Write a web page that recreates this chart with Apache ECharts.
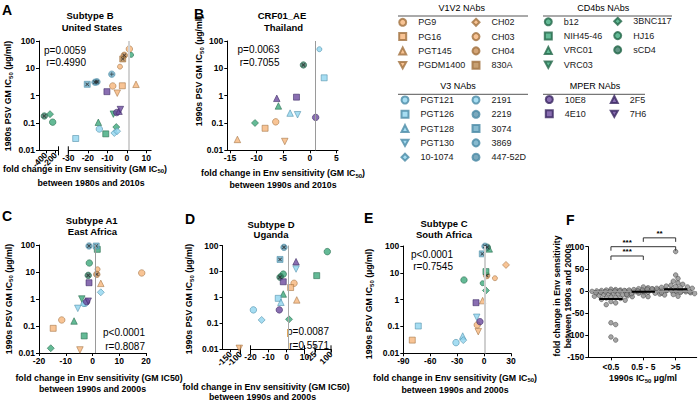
<!DOCTYPE html>
<html><head><meta charset="utf-8">
<script src="https://cdn.jsdelivr.net/npm/echarts@6/dist/echarts.min.js"></script>
<style>html,body{margin:0;padding:0;background:#fff}#c{width:700px;height:401px}</style>
</head><body><div id="c"></div>
<script>
// ---------------- DATA ----------------
const v1v2 = ["PG9","PG16","PGT145","PGDM1400","CH02","CH03","CH04","830A"];
const cd4bs = ["b12","NIH45-46","VRC01","VRC03","3BNC117","HJ16","sCD4"];
const v3 = ["PGT121","PGT126","PGT128","PGT130","10-1074","2191","2219","3074","3869","447-52D"];
const mper = ["10E8","4E10","2F5","7H6"];

// [antibody, fold change, GM IC50]
const panelA = [
 ["PG9",1.3,51],["HJ16",2.2,31],["CH04",-1.3,30],["830A",-2.1,22],["CH03",-3.5,11.5],
 ["3869",-7.7,6.1],["3074",-20.3,2.6],["2219",-16.3,3.1],["447-52D",-15.3,3.2],
 ["PG9",-7.2,2.26],["PG16",-2.3,2.3],["PGT145",4.7,2.6],["4E10",-10.2,1.4],["PGDM1400",-4.9,1.23],
 ["10E8",-5.2,0.24],["2F5",-4.0,0.27],["7H6",-3.3,0.31],["VRC03",-6.9,0.21],["VRC01",-14.6,0.106],
 ["PGT121",-14.1,0.06],["NIH45-46",-10.8,0.04],["3BNC117",-5.4,0.071],["10-1074",-6.4,0.043],
 ["10-1074",-5.0,0.05],["PGT126",-26.2,0.027],
 ["sCD4",-431,0.18],["3BNC117",-314,0.21],["b12",-259,0.107]
];
const panelB = [
 ["2191",1.8,50],["sCD4",-1.2,13.3],["PGT126",2.7,4.5],["2F5",-6.2,0.8],["4E10",-2.5,0.88],
 ["VRC01",-5.9,0.42],["PGT128",-3.7,0.23],["PGT130",-2.3,0.2],["10E8",1.1,0.16],["PG9",-6.4,0.11],
 ["PG16",-8.4,0.064],["3BNC117",-10.3,0.1],["PGT145",-13.6,0.025],["PGDM1400",-4.7,0.021]
];
const panelC = [
 ["2219",-1.3,92],["3074",1.4,92],["NIH45-46",1.8,69],["b12",-1.2,21.5],["CH03",1.9,12.6],
 ["PG9",18.4,9.2],["sCD4",-1.6,7.5],["CH04",1.6,8.2],["4E10",-1.3,4],["PGT145",3.1,3.8],
 ["10-1074",3.1,1.77],["VRC03",-4,1.0],["10E8",-2.2,0.79],["7H6",-1.6,0.83],["PGT121",-2.8,0.69],
 ["2191",-3.4,0.65],["PGT130",-5.5,0.45],["PG9",-11.5,0.167],["VRC01",-6.9,0.153],["PG16",-14.7,0.082],
 ["NIH45-46",-3.1,0.043],["3BNC117",-15.6,0.015],["PGDM1400",-4.7,0.013]
];
const panelD = [
 ["2219",-1.4,85],["3074",-3.6,29],["2F5",5.3,23.8],["PGT130",5.3,12.4],["b12",-1.8,7.9],
 ["HJ16",-3.1,6.7],["sCD4",-3.6,6.0],["4E10",-1.8,4.0],["PG9",4.2,3.5],["PG16",2.3,2.4],
 ["VRC01",-1.8,1.35],["PGT126",-4.6,0.92],["PGT145",5.7,0.8],["PGT128",-3.1,0.65],["PGT121",-18.4,0.33],
 ["10E8",-4,0.33],["10-1074",-13.8,0.135],["3BNC117",1.4,0.143],
 ["b12",82.7,58],["NIH45-46",33,6.9],["PGDM1400",-106,0.0109]
];
const panelE = [
 ["2219",1,98],["sCD4",3.6,90],["VRC01",5.8,78],["3074",-2,51],["CH02",24.4,19.7],["NIH45-46",2.1,11.1],
 ["CH04",2.9,7.9],["CH03",12.1,6.3],["b12",-22.4,5.4],["HJ16",-1.6,4.1],["3BNC117",2.1,2.2],
 ["PGT145",-1.6,0.92],["4E10",-9,0.77],["PGT130",-8.2,0.22],["10E8",-4.6,0.151],["PG9",-7.6,0.114],
 ["PGDM1400",-6.5,0.064],["PGT126",-73.3,0.104],["PG16",-80,0.031],["PGT128",-23.8,0.044],
 ["10-1074",-23.2,0.031],["PGT121",-31.3,0.025]
];
const fCats = ["<0.5","0.5 - 5",">5"];
const fLow = [4,3,2,2,1,0,0,-1,-1,-2,-2,-3,-3,-4,-5,-5,-6,-7,-8,-9,-10,-11,-12,-13,-14,-15,-16,-17,-19,-21,-24,-27,-31,-72,-76,-104,-111];
const fMid = [9,7,5,4,3,3,2,2,1,1,0,0,0,-1,-1,-1,-2,-2,-2,-3,-3,-4,-4,-5,-5,-6,-7,-8,-9,-11,-13];
const fHigh = [89,36,28,22,18,15,13,11,10,9,8,7,6,6,5,5,4,4,3,3,2,2,1,1,0,0,-1,-2,-3,-4,-6,-8,-12];
const fCenters = [-18,-2,4];
const fBrackets = [[0,2,100,"***"],[0,1,79,"***"],[1,2,120,"**"]];

const ticksA1=[-400,-200], ticksA2=[-30,-20,-10,0,10], ticksB=[-15,-10,-5,0,5], ticksC=[-20,-10,0,10,20];
const ticksD1=[-150,-100], ticksD2=[-20,-10,0,10], ticksD3=[25,100], ticksE=[-90,-60,-30,0,30];

// ---------------- STYLE ----------------
const FONT = '"Liberation Sans", Arial, sans-serif';
const GROUP_COLOR = {V1V2:'#F6B57A', V3:'#90D4EF', CD4bs:'#3DA97C', MPER:'#6B4A9E'};
const BORDER = {V1V2:'#A0703F', V3:'#4A8AA5', CD4bs:'#236648', MPER:'#382660'};
const DOWN = 'path://M0,0L10,0L5,9Z';
const XMARK = 'path://M1.5,0L5,3.5L8.5,0L10,1.5L6.5,5L10,8.5L8.5,10L5,6.5L1.5,10L0,8.5L3.5,5L0,1.5Z';
const PLUS = 'path://M4.2,0H5.8V4.2H10V5.8H5.8V10H4.2V5.8H0V4.2H4.2Z';
const STAR = 'path://M1.5,0L5,3.5L8.5,0L10,1.5L6.5,5L10,8.5L8.5,10L5,6.5L1.5,10L0,8.5L3.5,5L0,1.5Z M4.3,0H5.7V10H4.3Z M0,4.3H10V5.7H0Z';
const groupOf = {};
v1v2.forEach(n=>groupOf[n]='V1V2'); v3.forEach(n=>groupOf[n]='V3'); cd4bs.forEach(n=>groupOf[n]='CD4bs'); mper.forEach(n=>groupOf[n]='MPER');
const SYM = {
 PG9:{sym:'circle',size:6.5}, PG16:{sym:'rect',size:6}, PGT145:{sym:'triangle',size:6.5}, PGDM1400:{sym:DOWN,size:6.5},
 CH02:{sym:'diamond',size:7}, CH03:{sym:'circle',size:5}, CH04:{sym:'circle',size:6.5,fill:'#C98F55',mark:XMARK}, '830A':{sym:'rect',size:6,fill:'#B98850',mark:XMARK},
 PGT121:{sym:'circle',size:6.5}, PGT126:{sym:'rect',size:6}, PGT128:{sym:'triangle',size:6.5}, PGT130:{sym:DOWN,size:6.5},
 '10-1074':{sym:'diamond',size:7}, '2191':{sym:'circle',size:5}, '2219':{sym:'circle',size:6.5,fill:'#5A93AC',mark:XMARK},
 '3074':{sym:'rect',size:6,fill:'#6AAAC4',mark:XMARK}, '3869':{sym:'circle',size:6.5,fill:'#6AAAC4',mark:PLUS}, '447-52D':{sym:'circle',size:6.5,fill:'#5A93AC',mark:STAR},
 b12:{sym:'circle',size:6.5}, 'NIH45-46':{sym:'rect',size:6}, VRC01:{sym:'triangle',size:6.5}, VRC03:{sym:DOWN,size:6.5},
 '3BNC117':{sym:'diamond',size:7}, HJ16:{sym:'circle',size:5}, sCD4:{sym:'circle',size:6.5,fill:'#3B7A66',mark:XMARK},
 '10E8':{sym:'circle',size:6.5}, '4E10':{sym:'rect',size:6}, '2F5':{sym:'triangle',size:6.5}, '7H6':{sym:DOWN,size:6.5}
};

const GRIDS = [
 {left:39,   top:41,    width:19.5,  height:109.3, xmin:-540, xmax:-140, ticks:ticksA1, rot:45, showY:true},
 {left:68.3, top:41,    width:82.9,  height:109.3, xmin:-30,  xmax:12.5, ticks:ticksA2, showY:false, ref:['#d2d2d2',2]},
 {left:227.3,top:41,    width:110.7, height:109.3, xmin:-15.5,xmax:5.3,  ticks:ticksB,  showY:true, ref:['#9a9a9a',1]},
 {left:39,   top:245,   width:107,   height:108,   xmin:-20,  xmax:20,   ticks:ticksC,  showY:true, ref:['#9a9a9a',1]},
 {left:222.5,top:245.5, width:18,    height:103.8, xmin:-190, xmax:-100, ticks:ticksD1, rot:45, showY:true},
 {left:250.5,top:245.5, width:54,    height:103.8, xmin:-20,  xmax:10,   ticks:ticksD2, showY:false, ref:['#a8a8a8',1]},
 {left:315,  top:245.5, width:16,    height:103.8, xmin:25,   xmax:100,  ticks:ticksD3, rot:45, showY:false},
 {left:403.3,top:246,   width:107.7, height:107.3, xmin:-90,  xmax:30,   ticks:ticksE,  showY:true, ref:['#cfcfcf',2]},
];
const FG = {left:588.3, top:246.7, width:108.4, height:110.6, xmin:-0.7, xmax:2.65, ymin:-150, ymax:100};

const lab = {fontFamily:FONT, fontSize:8.5, fontWeight:'bold', color:'#000', hideOverlap:false};
const grid=[], xAxis=[], yAxis=[], series=[], extraX=[];
GRIDS.forEach((g,i)=>{
  grid.push({left:g.left, top:g.top, width:g.width, height:g.height, containLabel:false});
  // rotated labels of short broken-axis segments: one label per axis so none is dropped
  const mainLabels = g.rot ? [g.ticks[0]] : g.ticks;
  xAxis.push({type:'value', gridIndex:i, min:g.xmin, max:g.xmax, position:'bottom',
    axisLine:{show:true,onZero:false,lineStyle:{color:'#000',width:1}},
    axisTick:{show:true,length:3,customValues:g.ticks,lineStyle:{color:'#000'}},
    axisLabel:Object.assign({customValues:mainLabels, margin:3.5, rotate:g.rot||0}, lab),
    splitLine:{show:false}});
  if(g.rot) g.ticks.slice(1).forEach(v=>extraX.push({type:'value', gridIndex:i, min:g.xmin, max:g.xmax, position:'bottom', offset:0,
    axisLine:{show:false,onZero:false}, axisTick:{show:false},
    axisLabel:Object.assign({customValues:[v], margin:3.5, rotate:g.rot}, lab), splitLine:{show:false}}));
  yAxis.push({type:'log', logBase:10, gridIndex:i, min:0.01, max:100, show:g.showY,
    axisLine:{show:true,onZero:false,lineStyle:{color:'#000',width:1}},
    axisTick:{show:true,length:3,lineStyle:{color:'#000'}},
    axisLabel:Object.assign({margin:4, formatter:v=>String(+(+v).toPrecision(3))}, lab),
    splitLine:{show:false}, minorTick:{show:false}});
  if(g.ref){
    series.push({type:'scatter', xAxisIndex:i, yAxisIndex:i, data:[], z:1, silent:true,
      markLine:{silent:true, symbol:'none', label:{show:false}, animation:false,
        lineStyle:{color:g.ref[0], width:g.ref[1], type:'solid'}, data:[{xAxis:1}]}});
  }
});

const allNames = [...v1v2, ...cd4bs, ...v3, ...mper];
function abSeries(name, gi, data){
  const s = SYM[name], grp = groupOf[name];
  series.push({type:'scatter', name, xAxisIndex:gi, yAxisIndex:gi, data, symbol:s.sym, symbolSize:s.size, z:3,
    itemStyle:{color:s.fill||GROUP_COLOR[grp], borderColor:BORDER[grp], borderWidth:0.7}, emphasis:{disabled:true}});
  if(s.mark) series.push({type:'scatter', name, xAxisIndex:gi, yAxisIndex:gi, data, symbol:s.mark,
    symbolSize:s.size*0.62, z:4, silent:true, itemStyle:{color:'#262626', borderWidth:0}, emphasis:{disabled:true}});
}
function addPanel(points, segs){
  segs.forEach(([gi, test])=>{
    allNames.forEach(n=>{
      abSeries(n, gi, points.filter(p=>p[0]===n && test(p[1])).map(p=>[p[1],p[2]]));
    });
  });
}
addPanel(panelA, [[0,x=>x<-100],[1,x=>x>=-100]]);
addPanel(panelB, [[2,x=>true]]);
addPanel(panelC, [[3,x=>true]]);
addPanel(panelD, [[4,x=>x<-50],[5,x=>x>=-50&&x<=20],[6,x=>x>20]]);
addPanel(panelE, [[7,x=>true]]);

// ---- panel F ----
const FI = GRIDS.length;
grid.push({left:FG.left, top:FG.top, width:FG.width, height:FG.height});
xAxis.push({type:'value', gridIndex:FI, min:FG.xmin, max:FG.xmax,
  axisLine:{show:true,onZero:false,lineStyle:{color:'#000'}},
  axisTick:{show:true,length:3,customValues:[0,1,2],lineStyle:{color:'#000'}},
  axisLabel:Object.assign({customValues:[0,1,2], margin:5, formatter:v=>fCats[Math.round(v)]}, lab),
  splitLine:{show:false}});
yAxis.push({type:'value', gridIndex:FI, min:FG.ymin, max:FG.ymax, interval:50,
  axisLine:{show:true,onZero:false,lineStyle:{color:'#000'}},
  axisTick:{show:true,length:3,lineStyle:{color:'#000'}},
  axisLabel:Object.assign({margin:4}, lab), splitLine:{show:false}});
extraX.forEach(a=>xAxis.push(a));
const pxPerY = FG.height/(FG.ymax-FG.ymin), pxPerX = FG.width/(FG.xmax-FG.xmin);
function swarm(vals, center){
  const d = 4.3, step = d*0.55, placed=[], out=[];
  [...vals].sort((a,b)=>b-a).forEach(v=>{
    const py = v*pxPerY;
    for(let i=0;i<60;i++){
      const off = (i%2?1:-1)*Math.ceil(i/2)*step;
      if(placed.every(p=>(p[0]-off)**2+(p[1]-py)**2 >= d*d*0.92)){ placed.push([off,py]); out.push([center+off/pxPerX, v]); break; }
    }
  });
  return out;
}
[fLow,fMid,fHigh].forEach((vals,ci)=>{
  series.push({type:'scatter', xAxisIndex:FI, yAxisIndex:FI, data:swarm(vals,ci), symbol:'circle', symbolSize:4.6, z:3,
    itemStyle:{color:'#8e8e8e', borderColor:'#3a3a3a', borderWidth:0.6}, emphasis:{disabled:true},
    markLine: ci===0 ? {silent:true, symbol:'none', label:{show:false}, lineStyle:{color:'#9a9a9a',width:1,type:'solid'}, data:[{yAxis:0}]} : undefined});
  series.push({type:'line', xAxisIndex:FI, yAxisIndex:FI, data:[[ci-0.36,fCenters[ci]],[ci+0.36,fCenters[ci]]],
    symbol:'none', z:5, lineStyle:{color:'#000',width:2}, silent:true});
});
fBrackets.forEach(([a,b,y,txt])=>{
  const tk = 4/pxPerY;
  series.push({type:'line', xAxisIndex:FI, yAxisIndex:FI, clip:false, symbol:'none', silent:true, z:5,
    data:[[a,y-tk],[a,y],[b,y],[b,y-tk]], lineStyle:{color:'#333',width:1}});
  series.push({type:'scatter', xAxisIndex:FI, yAxisIndex:FI, clip:false, silent:true, symbolSize:1,
    itemStyle:{opacity:0}, data:[[a===0&&b===2?0.5:(a+b)/2, y]],
    label:{show:true, position:'top', distance:0, formatter:txt, fontFamily:FONT, fontSize:8, fontWeight:'bold', color:'#000', opacity:1}});
});

// ---------------- LEGEND ----------------
function legendCol(names, left, top){
  return {orient:'vertical', left, top, itemWidth:7, itemHeight:7, itemGap:3.3, selectedMode:false, padding:0,
    data:names, textStyle:{fontFamily:FONT, fontSize:9, color:'#1a1a1a', lineHeight:11, padding:[0,0,0,7]}};
}
const legend = [
  legendCol(["PG9","PG16","PGT145","PGDM1400"],398.2,16.8),
  legendCol(["CH02","CH03","CH04","830A"],471.5,16.8),
  legendCol(["b12","NIH45-46","VRC01","VRC03"],543.8,16.3),
  legendCol(["3BNC117","HJ16","sCD4"],613.2,15.8),
  legendCol(["PGT121","PGT126","PGT128","PGT130","10-1074"],400.5,94.5),
  legendCol(["2191","2219","3074","3869","447-52D"],471.5,94.5),
  legendCol(["10E8","4E10"],544.8,94),
  legendCol(["2F5","7H6"],609.8,94)
];

// ---------------- TEXT / DECORATION ----------------
const graphic = [];
const RICH = {t:{fontFamily:FONT,fontSize:8.8,fontWeight:'bold',fill:'#000',lineHeight:11},
              s:{fontFamily:FONT,fontSize:6,fontWeight:'bold',fill:'#000',lineHeight:11,verticalAlign:'bottom'}};
function txt(x,y,text,o={}){
  graphic.push({type:'text', x, y, rotation:o.rot||0, silent:true, style:{text, fill:'#000',
    fontFamily:FONT, fontSize:o.size||8.8, fontWeight:o.weight||'bold', align:o.align||'center', verticalAlign:'middle', rich:RICH}});
}
const sub = (a,b,c)=>`{t|${a}}{s|${b}}{t|${c}}`;
// panel letters
[["A",2,9.5],["B",194,13.5],["C",2,215.5],["D",185,219],["E",364,218],["F",566,220]].forEach(([l,x,y])=>txt(x,y,l,{size:14,align:'left'}));
// titles
[["Subtype B",90,15],["United States",92,27],["CRF01_AE",282,15],["Thailand",283.5,27],
 ["Subtype A1",91.7,220.5],["East Africa",92.5,231.5],["Subtype D",271,224],["Uganda",271,234.5],
 ["Subtype C",444,223.5],["South Africa",444,234]].forEach(([t,x,y])=>txt(x,y,t,{size:9.5}));
// stats
[["p=0.0059",86,50],["r=0.4990",86,62.7],["p=0.0063",279.5,49.3],["r=0.7055",279.5,62],
 ["p<0.0001",145,332.3],["r=0.8087",145,346],["p=0.0087",329,331.7],["r=0.5571",329,345],
 ["p<0.0001",453,254.3],["r=0.7545",453,266.7]].forEach(([t,x,y])=>txt(x,y,t,{size:10,weight:'normal',align:'right'}));
// x titles
txt(85,168.5,sub('fold change in Env sensitivity (GM IC','50',')'));
txt(91,182.5,'between 1980s and 2010s');
txt(283,173.3,sub('fold change in Env sensitivity (GM IC','50',')'));
txt(283,185,'between 1990s and 2010s');
txt(99,378.3,'fold change in Env sensitivity (GM IC50)');
txt(92.5,388.8,'between 1990s and 2000s');
txt(266,386.5,'fold change in Env sensitivity (GM IC50)');
txt(262.5,396.5,'between 1990s and 2000s');
txt(455,377.7,sub('fold change in Env sensitivity (GM IC','50',')'));
txt(455,390,'between 1990s and 2000s');
txt(643,378.3,sub('1990s IC','50',' µg/ml'));
// y titles
const R = Math.PI/2;
txt(8,96,sub('1980s PSV GM IC','50',' (µg/ml)'),{rot:R});
txt(199,71,sub('1990s PSV GM IC','50',' (µg/ml)'),{rot:R});
txt(8.5,299,sub('1990s PSV GM IC','50',' (µg/ml)'),{rot:R});
txt(189,299,sub('1990s PSV GM IC','50',' (µg/ml)'),{rot:R});
txt(369,304,sub('1990s PSV GM IC','50',' (µg/ml)'),{rot:R});
txt(557,296,'fold change in Env sensitivity',{rot:R,size:8.6});
txt(568,296,'between 1990s and 2000s',{rot:R,size:8.6});
// legend headers
[["V1V2 NAbs",461.7,8.3,398,528,16],["CD4bs NAbs",603.3,8.3,543,672,16],
 ["V3 NAbs",458,86,398,528,94.3],["MPER NAbs",595,86,543,645,94.3]].forEach(([t,x,y,x1,x2,ly])=>{
  txt(x,y,t,{size:9,weight:'normal'});
  graphic.push({type:'line', silent:true, shape:{x1,y1:ly,x2,y2:ly}, style:{stroke:'#555',lineWidth:1}});
});
// broken-axis caps
function cap(x, gi){ const g=GRIDS[gi]; const y=g.top+g.height;
  graphic.push({type:'line', silent:true, shape:{x1:x,y1:y-4,x2:x,y2:y+5}, style:{stroke:'#000',lineWidth:1}}); }
cap(GRIDS[0].left+GRIDS[0].width,0); cap(GRIDS[1].left,1);
cap(GRIDS[4].left+GRIDS[4].width,4); cap(GRIDS[5].left,5); cap(GRIDS[5].left+GRIDS[5].width,5);
cap(GRIDS[6].left,6); cap(GRIDS[6].left+GRIDS[6].width,6);

const chart = echarts.init(document.getElementById('c'), null, {renderer:'svg'});
chart.setOption({animation:false, backgroundColor:'#fff', textStyle:{fontFamily:FONT},
  grid, xAxis, yAxis, series, legend, graphic});
</script></body></html>
